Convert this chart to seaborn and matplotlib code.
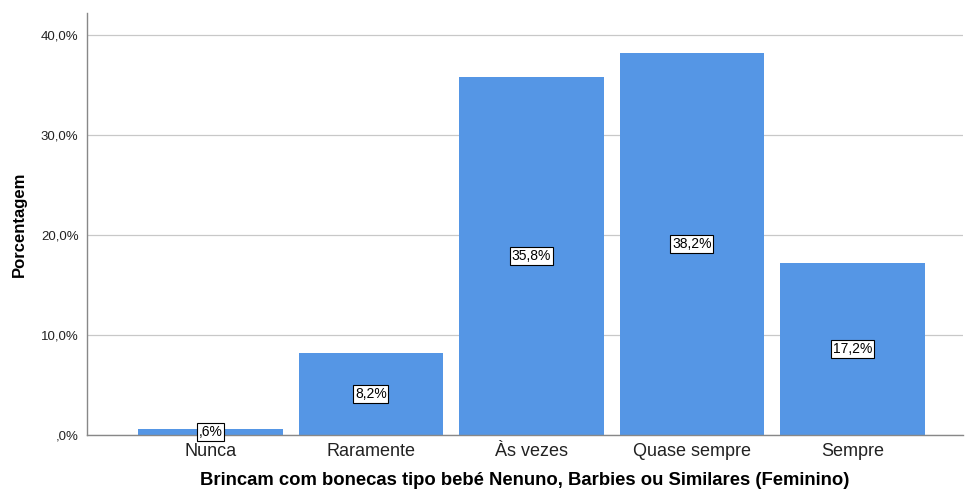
import matplotlib.pyplot as plt
import pandas as pd
import seaborn as sns

# dados
categorias = ["Nunca", "Raramente", "Às vezes", "Quase sempre", "Sempre"]
porcentagens = [0.6, 8.2, 35.8, 38.2, 17.2]
rotulos = [",6%", "8,2%", "35,8%", "38,2%", "17,2%"]
ticks_y = [0, 10, 20, 30, 40]
ticks_y_rotulos = [",0%", "10,0%", "20,0%", "30,0%", "40,0%"]

df = pd.DataFrame({"categoria": categorias, "porcentagem": porcentagens})

sns.set_theme(style="white")
plt.rcParams["font.family"] = ["Liberation Sans", "DejaVu Sans"]
plt.rcParams["text.color"] = "black"
plt.rcParams["axes.labelcolor"] = "black"
plt.rcParams["xtick.color"] = "#222222"
plt.rcParams["ytick.color"] = "#222222"

fig = plt.figure(figsize=(9.65, 4.91), dpi=100)
ax = fig.add_axes([0.090, 0.114, 0.908, 0.860])

sns.barplot(data=df, x="categoria", y="porcentagem", color="#5596e5",
            saturation=1, width=0.9, ax=ax, zorder=2, linewidth=0)

# rótulos no meio das barras
for i, (v, txt) in enumerate(zip(porcentagens, rotulos)):
    ax.text(i, v / 2, txt, ha="center", va="center", fontsize=10, color="black",
            zorder=3,
            bbox=dict(boxstyle="square,pad=0.12", fc="white", ec="black", lw=0.8))

ax.set_ylim(0, 42.2)
ax.set_xlim(-0.77, 4.69)
ax.set_yticks(ticks_y)
ax.set_yticklabels(ticks_y_rotulos, fontsize=9.5)
ax.tick_params(axis="x", labelsize=13, length=0, pad=6)
ax.tick_params(axis="y", length=0, pad=6)
ax.yaxis.grid(True, color="#c8c8c8", lw=0.9, zorder=0)
ax.set_axisbelow(True)

for s in ["top", "right"]:
    ax.spines[s].set_visible(False)
for s in ["left", "bottom"]:
    ax.spines[s].set_color("#888888")
    ax.spines[s].set_linewidth(1.0)

ax.set_xlabel("Brincam com bonecas tipo bebé Nenuno, Barbies ou Similares (Feminino)",
              fontsize=13.3, fontweight="bold", labelpad=8.5)
ax.set_ylabel("Porcentagem", fontsize=12, fontweight="bold", labelpad=10)

fig.savefig("out.png", dpi=100)
